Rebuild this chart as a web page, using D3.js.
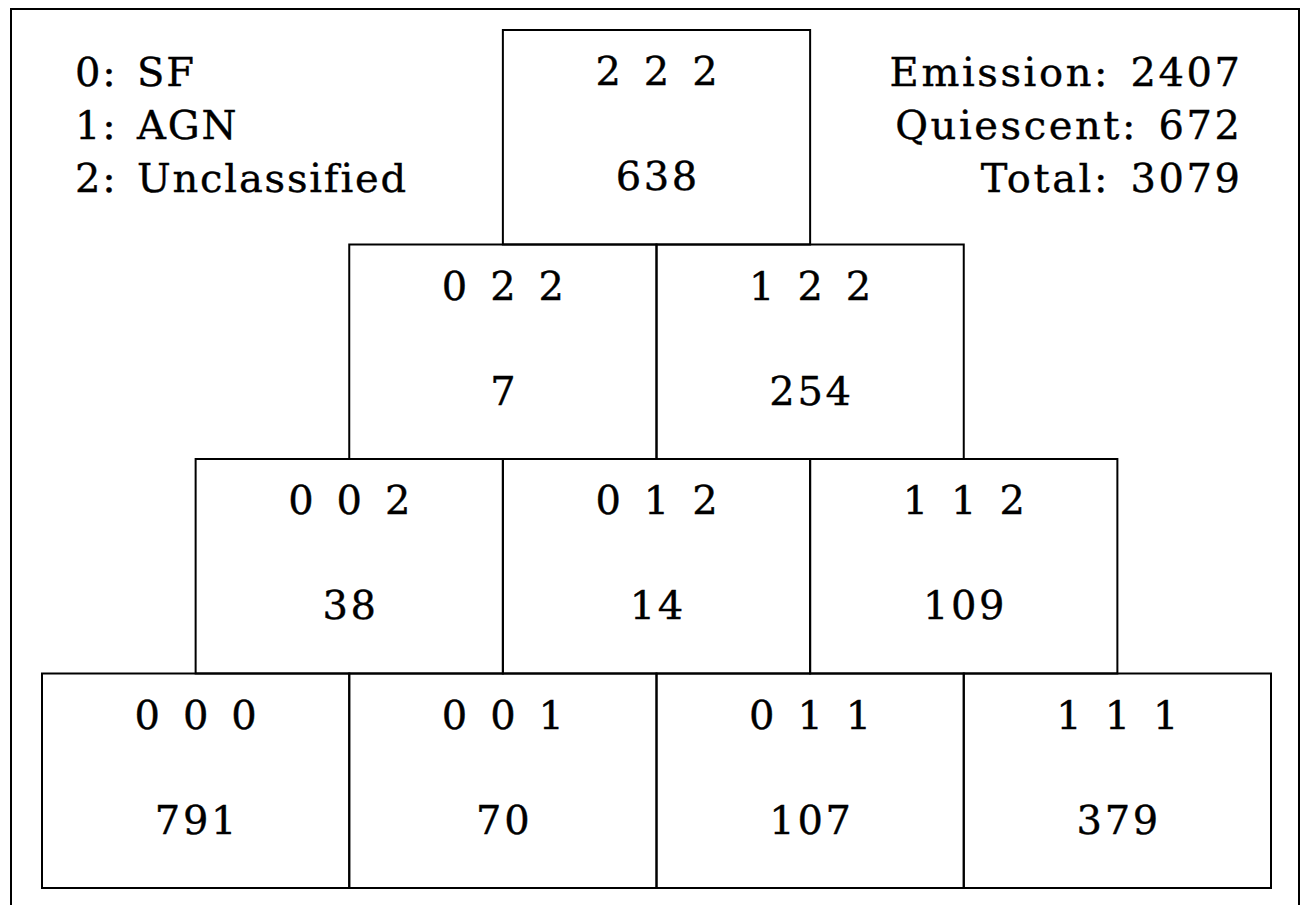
<!DOCTYPE html>
<html>
<head>
<meta charset="utf-8">
<script src="https://cdn.jsdelivr.net/npm/d3@7"></script>
<style>
  html, body { margin: 0; padding: 0; background: #fff; }
  svg { display: block; }
  text { font-family: "DejaVu Serif", serif; fill: #000; stroke: #000; stroke-width: 0.4px; }
</style>
</head>
<body>
<svg id="chart" width="1301" height="905"></svg>
<script>
// Data
const rowCodes = [
  ["2 2 2"],
  ["0 2 2", "1 2 2"],
  ["0 0 2", "0 1 2", "1 1 2"],
  ["0 0 0", "0 0 1", "0 1 1", "1 1 1"]
];
const rowCounts = [
  [638],
  [7, 254],
  [38, 14, 109],
  [791, 70, 107, 379]
];
const legendLines = ["0: SF", "1: AGN", "2: Unclassified"];
const summaryLabels = ["Emission", "Quiescent", "Total"];
const summaryValues = [2407, 672, 3079];

const svg = d3.select("#chart");
const ls = 2.6, ws = 5;

// outer frame
svg.append("rect")
  .attr("x", 11).attr("y", 9)
  .attr("width", 1288).attr("height", 920)
  .attr("fill", "none").attr("stroke", "#000").attr("stroke-width", 2);

const nRows = rowCodes.length;
const x = d3.scaleLinear().domain([0, nRows]).range([42, 1271]);
const y = d3.scaleLinear().domain([0, nRows]).range([30, 888]);

const cells = [];
rowCodes.forEach((row, r) => {
  row.forEach((code, i) => {
    const offset = (nRows - 1 - r) / 2;
    cells.push({ r, i, code, count: rowCounts[r][i], x0: offset + i, x1: offset + i + 1 });
  });
});

const g = svg.append("g");
const cell = g.selectAll("g.cell").data(cells).join("g").attr("class", "cell");

cell.append("rect")
  .attr("x", d => x(d.x0))
  .attr("y", d => y(d.r))
  .attr("width", d => x(d.x1) - x(d.x0))
  .attr("height", d => y(d.r + 1) - y(d.r))
  .attr("fill", "none")
  .attr("stroke", "#000")
  .attr("stroke-width", 2);

const fs = 40;
function styleText(sel, l) {
  sel.attr("font-size", fs)
    .style("letter-spacing", (l === undefined ? ls : l) + "px")
    .style("word-spacing", ws + "px");
}
cell.append("text")
  .attr("x", d => (x(d.x0) + x(d.x1)) / 2 + ls / 2)
  .attr("y", d => y(d.r) + 55)
  .attr("text-anchor", "middle")
  .call(styleText)
  .text(d => d.code);

cell.append("text")
  .attr("x", d => (x(d.x0) + x(d.x1)) / 2 + ls / 2)
  .attr("y", d => y(d.r) + 160)
  .attr("text-anchor", "middle")
  .call(styleText)
  .text(d => d.count);

// legend (left)
svg.append("g").selectAll("text").data(legendLines).join("text")
  .attr("x", 75)
  .attr("y", (d, i) => 86 + i * 53)
  .call(styleText, 1.8)
  .text(d => d);

// summary (right)
svg.append("g").selectAll("text").data(summaryLabels).join("text")
  .attr("x", 1240 + ls)
  .attr("y", (d, i) => 86 + i * 53)
  .attr("text-anchor", "end")
  .call(styleText)
  .text((d, i) => d + ": " + summaryValues[i]);
</script>
</body>
</html>
